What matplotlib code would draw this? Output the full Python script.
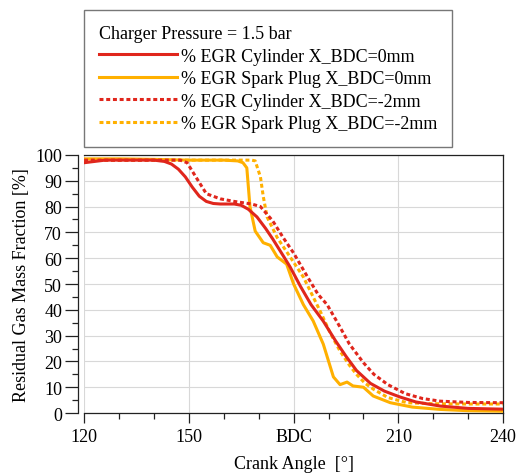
import matplotlib
matplotlib.use("Agg")
import matplotlib.pyplot as plt
import numpy as np

plt.rcParams['font.family'] = ['Liberation Serif', 'DejaVu Serif']
plt.rcParams['font.size'] = 13

# crank angle [deg] / residual gas mass fraction [%]
cyl0_x = [120, 123, 126, 130, 135, 140, 143, 145, 147, 149, 151, 153, 155, 157, 159, 161, 163, 165,
          167, 169.5, 172, 174, 177, 179, 182, 185, 188.5, 192, 195, 198, 202, 206, 210.5, 215, 222, 230, 240]
cyl0_y = [97, 97.5, 98, 98, 98, 98, 97.5, 96.5, 94.5, 91.5, 87.5, 84, 82, 81.2, 81, 81, 81, 80.5,
          79, 76, 71.5, 67.5, 61, 56.6, 49, 42, 35.6, 28, 22, 16.5, 11.5, 8.5, 6.2, 4.3, 2.7, 1.8, 1.5]

plug0_x = [120, 125, 130, 140, 150, 160, 164, 165.5, 166.6, 167.5, 169, 171.3, 173.3, 175.3, 178, 180,
           182.8, 185.6, 188.5, 191.4, 193.3, 195.3, 197, 200, 202.8, 207.7, 214, 222, 230, 240]
plug0_y = [98.5, 98.5, 98.5, 98.3, 98, 98, 97.7, 97, 95, 80, 70.5, 66, 65, 60.5, 57.7, 50,
           42, 35.7, 26.7, 14, 11, 12, 10.5, 10, 6.6, 4, 2.3, 1.4, 0.9, 0.7]

cyl2_x = [120, 125, 130, 140, 145, 147.5, 149.5, 152, 155, 159, 163, 168, 170.5, 174, 177, 180, 184,
          187, 189.6, 193, 196, 200, 203, 207, 212, 217, 222, 230, 240]
cyl2_y = [98, 98, 98, 98, 98, 98, 97, 91.5, 85, 83, 82, 81, 80, 74.5, 68, 62, 52.7,
          46, 42, 34, 26.7, 19.5, 15, 11, 7.5, 5.6, 4.6, 4.1, 4]

plug2_x = [120, 125, 130, 140, 150, 160, 165, 168, 169, 170.5, 171.3, 172.4, 175.3, 179, 182.8, 187.6,
           190.5, 193.3, 196, 198, 200.5, 202.8, 207, 212.5, 220, 230, 240]
plug2_y = [98, 98, 98, 98, 98, 98, 98, 98, 97.7, 91.5, 84, 76, 68, 60.5, 52.7, 39.5,
           31, 24, 18.5, 15, 11.5, 9.3, 6, 4, 3.6, 3.5, 3.5]

red = '#e0261c'
yel = '#ffb000'

fig = plt.figure(figsize=(5.16, 4.77), dpi=100)
ax = fig.add_axes([0.163, 0.132, 0.812, 0.541])

lw = 2.2
dots = (0, (1.3, 0.9))
l1, = ax.plot(cyl0_x, cyl0_y, color=red, lw=lw, label='% EGR Cylinder X_BDC=0mm', zorder=4)
l2, = ax.plot(plug0_x, plug0_y, color=yel, lw=lw, label='% EGR Spark Plug X_BDC=0mm', zorder=3)
l3, = ax.plot(cyl2_x, cyl2_y, color=red, lw=lw, ls=dots, label='% EGR Cylinder X_BDC=-2mm', zorder=4)
l4, = ax.plot(plug2_x, plug2_y, color=yel, lw=lw, ls=dots, label='% EGR Spark Plug X_BDC=-2mm', zorder=3)

ax.set_xlim(120, 240)
ax.set_ylim(0, 100)
ax.set_xticks([120, 150, 180, 210, 240])
ax.set_xticklabels(['120', '150', 'BDC', '210', '240'])
ax.set_xticks(np.arange(120, 241, 10), minor=True)
ax.set_yticks(np.arange(0, 101, 10))
ax.set_yticks(np.arange(0, 101, 5), minor=True)

ax.grid(True, which='major', color='#d8d8d8', lw=0.8, zorder=0)
ax.spines['left'].set_position(('outward', 4.5))
for s in ax.spines.values():
    s.set_linewidth(0.9)
    s.set_color('#222222')
ax.tick_params(which='major', direction='out', length=7.5, width=0.9, color='#222222', pad=3.5)
ax.tick_params(which='minor', direction='out', length=4.3, width=0.9, color='#222222')
ax.tick_params(axis='y', which='major', length=9.4, pad=2)

ax.set_xlabel('Crank Angle  [°]', labelpad=7)
ax.set_ylabel('Residual Gas Mass Fraction [%]', labelpad=4)

leg = fig.legend(handles=[l1, l2, l3, l4], title='Charger Pressure = 1.5 bar',
                 loc='upper left', bbox_to_anchor=(84 / 516, 1 - 11 / 477),
                 fancybox=False, edgecolor='#777777', framealpha=1,
                 handlelength=4.3, handletextpad=0.2, labelspacing=0.3,
                 borderpad=0.85, alignment='left', title_fontsize=13, borderaxespad=0)
leg.get_frame().set_linewidth(1.0)

fig.savefig('out.png', dpi=100)
